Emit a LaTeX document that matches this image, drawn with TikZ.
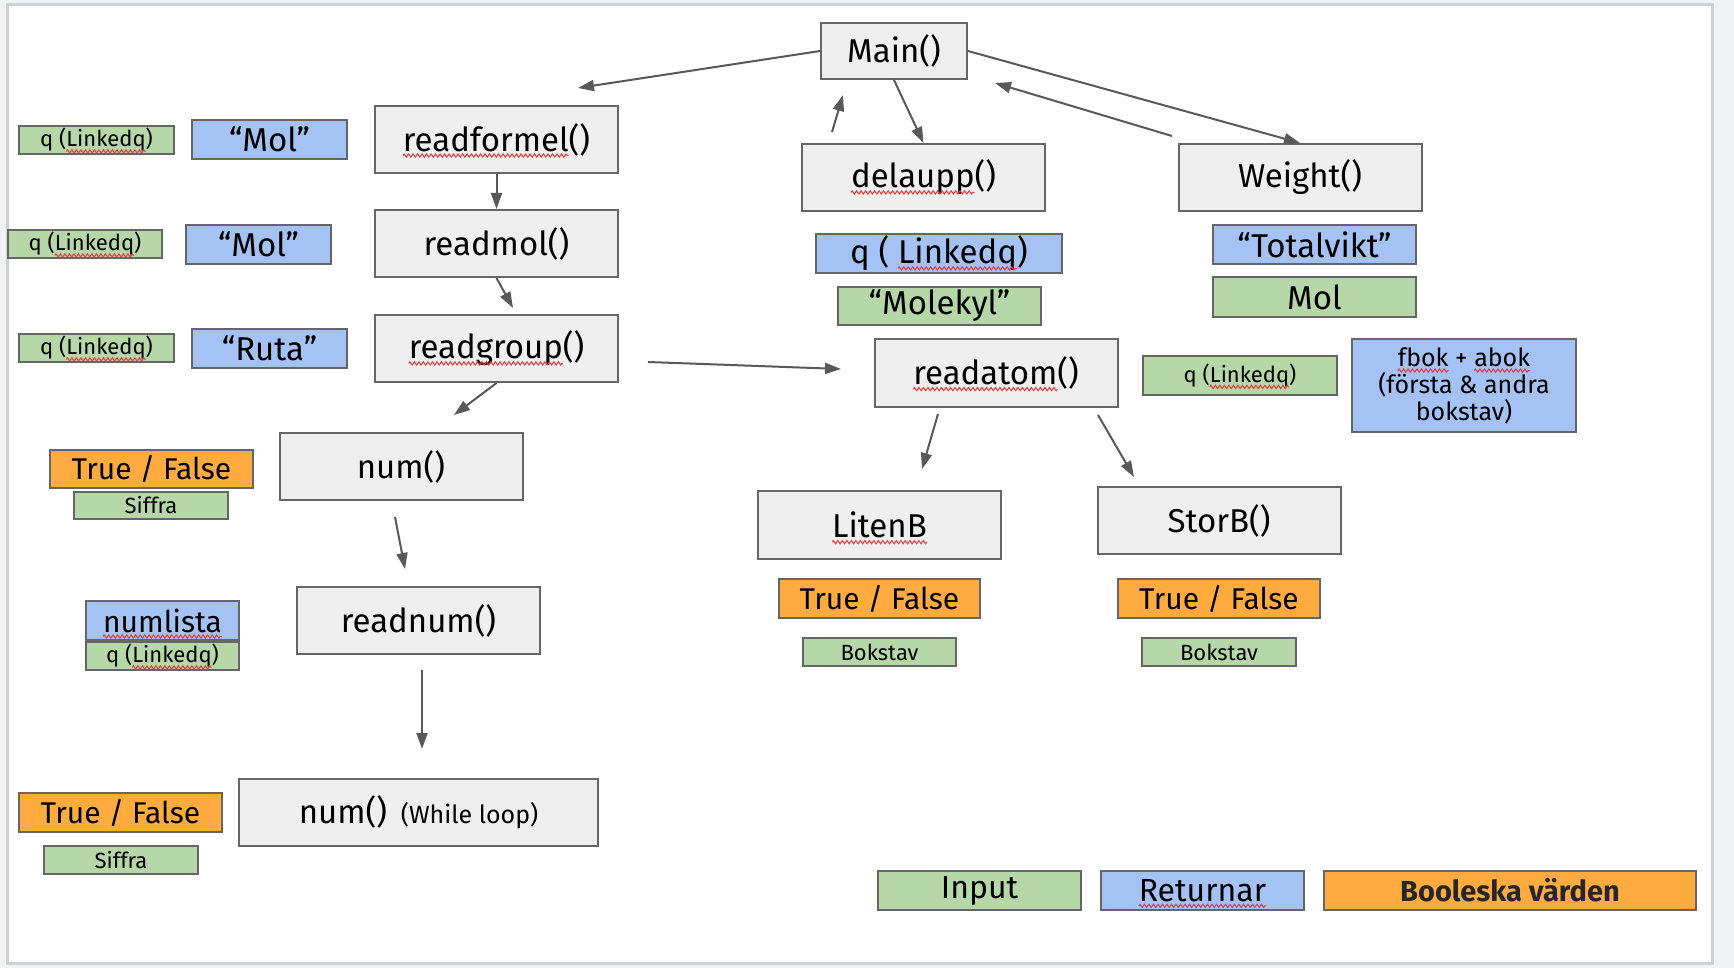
\documentclass[tikz,border=0pt]{standalone}
\usepackage{fontspec}
\setmainfont{Fira Sans}
\usetikzlibrary{arrows.meta,decorations.pathmorphing}

\definecolor{pagegrey}{HTML}{F1F3F4}
\definecolor{pageedge}{HTML}{D0D0D0}
\definecolor{boxgrey}{HTML}{EFEFEF}
\definecolor{edge}{HTML}{666666}
\definecolor{ingreen}{HTML}{B6D7A8}
\definecolor{retblue}{HTML}{A4C2F4}
\definecolor{boolorange}{HTML}{FFAB40}
\definecolor{arrowgrey}{HTML}{595959}
\definecolor{squig}{HTML}{E8383D}
% red spell-check wave under a word
\newsavebox\sqbox
\newcommand\sq[1]{\sbox\sqbox{#1}\rlap{\usebox\sqbox}\tikz[baseline=0pt]{\useasboundingbox (0pt,0pt) rectangle (\wd\sqbox,0.1pt);
  \draw[squig, line width=1pt, decorate, decoration={zigzag, amplitude=1.6pt, segment length=4.5pt}] (0pt,-4.5pt) -- (\wd\sqbox,-4.5pt);}}

\begin{document}
\begin{tikzpicture}[x=1pt,y=-1pt]
\tikzstyle{every node}=[inner sep=0pt, line width=2pt, draw=edge]
\tikzstyle{func}=[fill=boxgrey, minimum width=243pt, minimum height=67pt, font=\fontsize{33}{38}\selectfont]
\tikzstyle{inp}=[fill=ingreen, minimum height=28pt, font=\fontsize{22}{26}\selectfont]
\tikzstyle{ret}=[fill=retblue, minimum height=39pt, font=\fontsize{33}{38}\selectfont]
\tikzstyle{bool}=[fill=boolorange, minimum width=203pt, minimum height=39pt, font=\fontsize{30}{36}\selectfont]
\tikzstyle{conn}=[draw=arrowgrey, line width=2pt, -{Triangle[length=16pt,width=11pt]}]

\useasboundingbox (0,0) rectangle (1734,968);
\fill[pagegrey] (0,0) rectangle (1734,968);
\draw[line width=3pt, draw=pageedge, fill=white] (7,5) rectangle (1712,963);

% functions
\draw (894,51) node (main) [func, minimum width=146pt, minimum height=56pt] {Main()};
\draw (496.5,139.5) node (readformel) [func] {\sq{readformel}()};
\draw (496.5,243.5) node (readmol) [func] {readmol()};
\draw (496.5,348.5) node (readgroup) [func] {\sq{readgroup}()};
\draw (401,466.5) node (num) [func] {num()};
\draw (418.5,620.5) node (readnum) [func] {readnum()};
\draw (418.5,812.5) node (numloop) [func, minimum width=359pt] {num()\hspace{14pt}{\fontsize{25}{30}\selectfont(While loop)}};
\draw (923.5,177.5) node (delaupp) [func] {\sq{delaupp}()};
\draw (1300,177.5) node (weight) [func] {Weight()};
\draw (996,373) node (readatom) [func, minimum height=68pt] {\sq{readatom}()};
\draw (879.5,525) node (litenb) [func, minimum height=68pt] {\sq{LitenB}};
\draw (1219,520.5) node (storb) [func] {StorB()};

% input
\draw (96.5,140) node (qa) [inp, minimum width=155pt] {q (\sq{Linkedq})};
\draw (85,244) node (qb) [inp, minimum width=154pt] {q (\sq{Linkedq})};
\draw (96.5,348) node (qc) [inp, minimum width=155pt] {q (\sq{Linkedq})};
\draw (1314.5,297) node (molin) [inp, minimum width=203pt, minimum height=40pt, font=\fontsize{33}{38}\selectfont] {Mol};
\draw (939.5,306) node (molekyl) [inp, minimum width=203pt, minimum height=38pt, font=\fontsize{33}{38}\selectfont] {“Molekyl”};
\draw (1240,375.5) node (qd) [inp, minimum width=194pt, minimum height=39pt] {q (\sq{Linkedq})};
\draw (151,505.5) node (siffraa) [inp, minimum width=154pt, minimum height=27pt] {Siffra};
\draw (162.5,656) node (qe) [inp, minimum width=153pt] {q (\sq{Linkedq})};
\draw (121,860) node (siffrab) [inp, minimum width=154pt] {Siffra};
\draw (879.5,652) node (bokstava) [inp, minimum width=153pt] {Bokstav};
\draw (1219,652) node (bokstavb) [inp, minimum width=154pt] {Bokstav};

% returns
\draw (269.5,139.5) node (mola) [ret, minimum width=155pt] {“Mol”};
\draw (258.5,244.5) node (molb) [ret, minimum width=145pt] {“Mol”};
\draw (269.5,348.5) node (ruta) [ret, minimum width=155pt] {“Ruta”};
\draw (162.5,620.5) node (numlista) [ret, minimum width=153pt, font=\fontsize{30}{36}\selectfont] {\sq{numlista}};
\draw (939,253.5) node (qret) [ret, minimum width=246pt] {q ( \sq{Linkedq})};
\draw (1314.5,244.5) node (totalvikt) [ret, minimum width=203pt] {“Totalvikt”};
\draw (1464,385.5) node (fbok) [ret, minimum width=224pt, minimum height=93pt, align=center, font=\fontsize{25}{27}\selectfont] {\sq{fbok} + \sq{abok}\\(första \& andra\\bokstav)};

% booleans
\draw (151.5,469) node (tfa) [bool, minimum height=38pt] {True / False};
\draw (120.5,812.5) node (tfb) [bool] {True / False};
\draw (879.5,598.5) node (tfc) [bool, minimum width=201pt] {True / False};
\draw (1219,598.5) node (tfd) [bool, minimum width=202pt] {True / False};

% legend
\draw (979.5,890.5) node (leginput) [inp, minimum width=203pt, minimum height=39pt, font=\fontsize{32}{38}\selectfont] {Input};
\draw (1202.5,890.5) node (legret) [ret, minimum width=203pt, font=\fontsize{32}{38}\selectfont] {\sq{Returnar}};
\draw (1510,890.5) node (legbool) [bool, minimum width=372pt, font=\fontsize{29}{34}\selectfont\bfseries, text={black!85}] {Booleska värden};

% free arrow ends
\coordinate (c1) at (578,88);
\coordinate (w1) at (1172,136);
\coordinate (w2) at (995,83);
\coordinate (d1) at (832,132);
\coordinate (d2) at (843,95);
\coordinate (g1) at (513,308);
\coordinate (n1) at (454,415);
\coordinate (a1) at (648,362);
\coordinate (a2) at (841,369);
\coordinate (r1) at (395,517);
\coordinate (r2) at (405,569);
\coordinate (l1) at (422,670);
\coordinate (l2) at (422,749);
\coordinate (t1) at (938,414);
\coordinate (t2) at (922,469);
\coordinate (s1) at (1098,415);
\coordinate (s2) at (1134,477);

% calls
\draw[conn] (main.west) -- (c1);
\draw[conn] (main.south) -- (delaupp.north);
\draw[conn] (main.east) -- (weight.north);
\draw[conn] (w1) -- (w2);
\draw[conn] (d1) -- (d2);
\draw[conn] (readformel.south) -- (readmol.north);
\draw[conn] (readmol.south) -- (g1);
\draw[conn] (readgroup.south) -- (n1);
\draw[conn] (a1) -- (a2);
\draw[conn] (r1) -- (r2);
\draw[conn] (l1) -- (l2);
\draw[conn] (t1) -- (t2);
\draw[conn] (s1) -- (s2);
\end{tikzpicture}
\end{document}
